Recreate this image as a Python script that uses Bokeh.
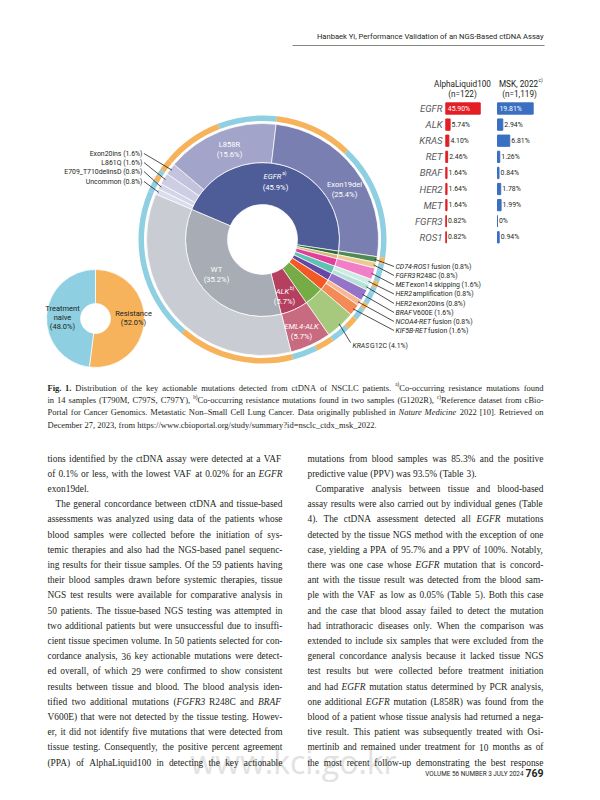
import numpy as np
from bokeh.plotting import figure
from bokeh.models import Range1d, ColumnDataSource
from bokeh.core.properties import value
from bokeh.embed import file_html
from bokeh.resources import INLINE

# ---------------- data ----------------
genes = ["EGFR", "ALK", "KRAS", "RET", "BRAF", "HER2", "MET", "FGFR3", "ROS1"]
alpha_pct = [45.90, 5.74, 4.10, 2.46, 1.64, 1.64, 1.64, 0.82, 0.82]
msk_pct = [19.81, 2.94, 6.81, 1.26, 0.84, 1.78, 1.99, 0.0, 0.94]

inner_names = ["EGFR", "ROS1", "FGFR3", "MET", "HER2", "BRAF", "RET", "KRAS", "ALK", "WT"]
inner_pct = [45.9, 0.8, 0.8, 1.6, 1.6, 1.6, 2.4, 4.1, 5.7, 35.2]

middle_names = ["Uncommon", "E709_T710delinsD", "L861Q", "Exon20ins", "L858R", "Exon19del",
                "CD74-ROS1 fusion", "FGFR3 R248C", "MET exon14 skipping", "HER2 amplification",
                "HER2 exon20ins", "BRAFV600E", "NCOA4-RET fusion", "KIF5B-RET fusion",
                "KRAS G12C", "EML4-ALK", "WT"]
middle_pct = [0.8, 0.8, 1.6, 1.6, 15.6, 25.4, 0.8, 0.8, 1.6, 0.8, 0.8, 1.6, 0.8, 1.6, 4.1, 5.7, 35.2]

outer_pct = [0.8, 0.8, 0.8, 0.8, 1.6, 7.9, 7.7, 10.2, 15.2, 0.8, 0.8, 1.6, 0.8, 0.8, 1.6, 0.8, 1.6,
             1.6, 2.5, 2.4, 3.3, 15.2, 20.0]
outer_status = ["N", "N", "R", "N", "R", "R", "N", "R", "N", "R", "N", "N", "R", "N", "N", "R", "N",
                "R", "N", "R", "N", "R", "N"]

treatment_names = ["Resistance", "Treatment naive"]
treatment_pct = [52.0, 48.0]

# ---------------- styles ----------------
SANS = "Roboto"
SERIF = "Liberation Serif"
INK = "#231f20"

inner_colors = ["#4e5c98", "#2e6b3c", "#d9b57a", "#e23f9b", "#5fc1b1", "#6547a5", "#f15a24",
                "#76ac46", "#b43f5e", "#a8acb4"]
middle_colors = ["#dcdcee", "#d5d5ea", "#cdcde4", "#c3c3de", "#a3a4c9", "#7a7fb1", "#4f8a52",
                 "#edca93", "#f17fc7", "#cfeae3", "#b6e1d8", "#9474c6", "#f9b690", "#f28b55",
                 "#a7c97d", "#c86b80", "#c9ccd2"]
status_colors = {"R": "#f7b35b", "N": "#8ecfe2"}

# approximate advance widths (em) used only to place text runs one after another
RW = {' ': .248, 'A': .652, 'B': .623, 'C': .651, 'D': .656, 'E': .568, 'F': .553, 'G': .681,
      'H': .713, 'I': .272, 'J': .552, 'K': .627, 'L': .538, 'M': .873, 'N': .713, 'O': .687,
      'P': .631, 'Q': .687, 'R': .616, 'S': .595, 'T': .597, 'U': .648, 'V': .636, 'W': .869,
      'X': .628, 'Y': .600, 'Z': .599, 'a': .544, 'b': .561, 'c': .523, 'd': .564, 'e': .530,
      'f': .346, 'g': .561, 'h': .551, 'i': .243, 'j': .239, 'k': .506, 'l': .243, 'm': .875,
      'n': .552, 'o': .570, 'p': .561, 'q': .568, 'r': .338, 's': .516, 't': .326, 'u': .551,
      'v': .484, 'w': .738, 'x': .496, 'y': .473, 'z': .496, '(': .342, ')': .349, '%': .733,
      '.': .263, ',': .196, '-': .276, '_': .452}
TW = {' ': 250, '!': 333, '%': 833, "'": 333, '(': 333, ')': 333, ',': 250, '-': 333, '.': 250,
      '/': 278, ':': 278, ';': 278, '=': 564, '?': 444, '[': 333, ']': 333, '_': 500,
      '\u2013': 500, 'A': 722, 'B': 667, 'C': 667, 'D': 722, 'E': 611, 'F': 556, 'G': 722,
      'H': 722, 'I': 333, 'J': 389, 'K': 722, 'L': 611, 'M': 889, 'N': 722, 'O': 722, 'P': 556,
      'Q': 722, 'R': 667, 'S': 556, 'T': 611, 'U': 722, 'V': 722, 'W': 944, 'X': 722, 'Y': 722,
      'Z': 611, 'a': 444, 'b': 500, 'c': 444, 'd': 500, 'e': 444, 'f': 333, 'g': 500, 'h': 500,
      'i': 278, 'j': 278, 'k': 500, 'l': 278, 'm': 778, 'n': 500, 'o': 500, 'p': 500, 'q': 500,
      'r': 333, 's': 389, 't': 278, 'u': 500, 'v': 500, 'w': 722, 'x': 500, 'y': 500, 'z': 444}


def sans_w(s, size):
    return sum(RW.get(c, .55) for c in s) * size


def serif_w(s, size):
    return sum(TW.get(c, 500) for c in s) / 1000.0 * size


p = figure(width=584, height=784, x_range=Range1d(8, 592), y_range=Range1d(792, 8),
           output_backend="svg", toolbar_location=None, min_border=0,
           x_axis_location=None, y_axis_location=None)
p.grid.visible = False
p.outline_line_color = None


def txt(x, y, s, size=7.5, color=INK, font=SANS, style="normal", align="left",
        baseline="middle", **kw):
    p.text(x=[x], y=[y], text=[s], text_font=value(font), text_font_size="%.2fpx" % size,
           text_color=color, text_font_style=style, text_align=align, text_baseline=baseline,
           **kw)


# ---------------- watermark (behind everything) ----------------
txt(301, 769, "www.kci.go.kr", size=32, font="Open Sans", color="#e2e2e2", align="center")

# ---------------- header ----------------
txt(551, 44, "Hanbaek Yi, Performance Validation of an NGS-Based ctDNA Assay", size=7.6,
    align="right")
p.segment(x0=[300], y0=[53], x1=[552], y1=[53], line_color="#666666", line_width=0.8)


# ---------------- sunburst ----------------
def ring(pcts, start_deg):
    pcts = np.asarray(pcts, dtype=float)
    cum = np.concatenate([[0], np.cumsum(pcts)]) / pcts.sum() * 360.0
    ends = np.radians(start_deg - cum[:-1])
    starts = np.radians(start_deg - cum[1:])
    return starts, ends


CX, CY = 270, 247
START = 157.0

s, e = ring(inner_pct, START)
p.annular_wedge(x=CX, y=CY, inner_radius=35, outer_radius=77, start_angle=s, end_angle=e,
                fill_color=inner_colors, line_color="white", line_width=0.7)
ms, me = ring(middle_pct, START)
p.annular_wedge(x=CX, y=CY, inner_radius=77, outer_radius=116, start_angle=ms, end_angle=me,
                fill_color=middle_colors, line_color="white", line_width=0.7)
s, e = ring(outer_pct, START)
p.annular_wedge(x=CX, y=CY, inner_radius=118.5, outer_radius=124, start_angle=s, end_angle=e,
                fill_color=[status_colors[k] for k in outer_status], line_color=None)

W = "white"
LS = 7.6
txt(237, 152, "L858R", size=LS, color=W, align="center")
txt(237, 162, "(15.6%)", size=LS, color=W, align="center")
txt(352, 192, "Exon19del", size=LS, color=W, align="center")
txt(352, 202, "(25.4%)", size=LS, color=W, align="center")
txt(280, 184, "EGFR", size=LS, color=W, align="center", style="italic")
txt(280 + sans_w("EGFR", LS) / 2 + 0.5, 181, "a)", size=4.8, color=W)
txt(283, 195, "(45.9%)", size=LS, color=W, align="center")
txt(224, 277, "WT", size=LS, color=W, align="center")
txt(224, 287, "(35.2%)", size=LS, color=W, align="center")
txt(290, 299, "ALK", size=LS, color=W, align="center", style="italic")
txt(290 + sans_w("ALK", LS) / 2 + 0.5, 296, "b)", size=4.8, color=W)
txt(292, 309, "(5.7%)", size=LS, color=W, align="center")
txt(309, 334, "EML4-ALK", size=LS, color=W, align="center", style="italic")
txt(309, 344, "(5.7%)", size=LS, color=W, align="center")

# leader lines (targets computed from wedge mid-angles)
mid = (ms + me) / 2.0
RL = 114


def target(i):
    return CX + RL * np.cos(mid[i]), CY - RL * np.sin(mid[i])


FS = 6.9
left_idx = [3, 2, 1, 0]
left_y = [161, 170, 179, 189]
left_txt = ["Exon20ins (1.6%)", "L861Q (1.6%)", "E709_T710delinsD (0.8%)", "Uncommon (0.8%)"]
for i, yy, t in zip(left_idx, left_y, left_txt):
    txt(150, yy, t, size=FS, align="right")
    tx, ty = target(i)
    p.segment(x0=[151.5], y0=[yy], x1=[tx], y1=[ty], line_color=INK, line_width=0.8)

right_idx = [6, 7, 8, 9, 10, 11, 12, 13]
right_y = [274, 283, 292.5, 301.5, 311, 320, 329, 338]
right_it = ["CD74-ROS1", "FGFR3", "MET", "HER2", "HER2", "BRAF", "NCOA4-RET", "KIF5B-RET"]
right_rest = [" fusion (0.8%)", " R248C (0.8%)", " exon14 skipping (1.6%)",
              " amplification (0.8%)", " exon20ins (0.8%)", "V600E (1.6%)", " fusion (0.8%)",
              " fusion (1.6%)"]
for i, yy, a, b in zip(right_idx, right_y, right_it, right_rest):
    txt(403, yy, a, size=FS, style="italic")
    txt(403 + sans_w(a, FS) + 0.3, yy, b, size=FS)
    tx, ty = target(i)
    p.segment(x0=[401.5], y0=[yy], x1=[tx], y1=[ty], line_color=INK, line_width=0.8)

txt(360, 353, "KRAS", size=FS, style="italic")
txt(360 + sans_w("KRAS", FS) + 0.3, 353, " G12C (4.1%)", size=FS)
tx, ty = target(14)
p.segment(x0=[358], y0=[350], x1=[tx], y1=[ty], line_color=INK, line_width=0.8)

# ---------------- treatment donut ----------------
ts, te = ring(treatment_pct, 90.0)
p.annular_wedge(x=103, y=326, inner_radius=15, outer_radius=49, start_angle=ts, end_angle=te,
                fill_color=[status_colors["R"], status_colors["N"]], line_color="white",
                line_width=0.7)
txt(70, 316, "Treatment", align="center")
txt(70, 325, "naive", align="center")
txt(70, 334, "(48.0%)", align="center")
txt(141, 321, "Resistance", align="center")
txt(141, 330, "(52.0%)", align="center")

# ---------------- bar table ----------------
ROW0, ROWSTEP = 116.0, 16.1
A0, AS = 453.3, 0.75
M0, MS_ = 505.0, 1.8
p.extra_y_ranges = {"rows": Range1d(start=(792 - ROW0) / ROWSTEP, end=(8 - ROW0) / ROWSTEP)}
p.extra_x_ranges = {"alpha": Range1d(start=(8 - A0) / AS, end=(592 - A0) / AS),
                    "msk": Range1d(start=(8 - M0) / MS_, end=(592 - M0) / MS_)}
idx = list(range(len(genes)))

HS = 8.2
txt(470, 91, "AlphaLiquid100", size=HS, align="center")
txt(470, 101, "(n=122)", size=HS, align="center")
txt(526, 91, "MSK, 2022", size=HS, align="center")
txt(526 + sans_w("MSK, 2022", HS) / 2 + 0.5, 88, "c)", size=4.8)
txt(527, 101, "(n=1,119)", size=HS, align="center")

p.text(x=[450] * len(genes), y=idx, text=genes, y_range_name="rows", text_font=value(SANS),
       text_font_size="9.6px", text_font_style="italic", text_color="#58595b",
       text_align="right", text_baseline="middle")

p.hbar(y=idx, left=0, right=alpha_pct, height=0.7, color="#e31e24",
       x_range_name="alpha", y_range_name="rows")
p.hbar(y=idx, left=0, right=msk_pct, height=0.7, color="#3a6fc2",
       x_range_name="msk", y_range_name="rows")

alabels = ["%.2f%%" % v for v in alpha_pct]
mlabels = ["%.2f%%" % v if v > 0 else "0%" for v in msk_pct]
VS = "6.9px"
p.text(x=[0], y=[0], text=[alabels[0]], x_offset=2, x_range_name="alpha", y_range_name="rows",
       text_font=value(SANS), text_font_size=VS, text_color="white", text_baseline="middle")
p.text(x=alpha_pct[1:], y=idx[1:], text=alabels[1:], x_offset=1.5, x_range_name="alpha",
       y_range_name="rows", text_font=value(SANS), text_font_size=VS, text_color=INK,
       text_baseline="middle")
p.text(x=[0], y=[0], text=[mlabels[0]], x_offset=2, x_range_name="msk", y_range_name="rows",
       text_font=value(SANS), text_font_size=VS, text_color="white", text_baseline="middle")
p.text(x=msk_pct[1:], y=idx[1:], text=mlabels[1:], x_offset=1.5, x_range_name="msk",
       y_range_name="rows", text_font=value(SANS), text_font_size=VS, text_color=INK,
       text_baseline="middle")


# ---------------- justified serif text (caption and body) ----------------
def parse_word(w):
    """'{a)}word' -> superscript + normal; 'pre*word' -> normal 'pre' + italic; '!word' -> bold"""
    if w.startswith("{"):
        k = w.index("}")
        runs = [(w[1:k], "sup")]
        if w[k + 1:]:
            runs.append((w[k + 1:], "normal"))
        return runs
    if "*" in w:
        k = w.index("*")
        runs = []
        if w[:k]:
            runs.append((w[:k], "normal"))
        runs.append((w[k + 1:], "italic"))
        return runs
    if w.startswith("!"):
        return [(w[1:], "bold")]
    return [(w, "normal")]


def set_block(lines, x0, x1, y0, lh, size, ragged=(), indent=(), ind=8.0):
    xs, ys, ts, ss, st = [], [], [], [], []
    for k, line in enumerate(lines):
        words = [parse_word(w) for w in line.split(" ")]
        wid = []
        for runs in words:
            wsum = 0.0
            for t, sty in runs:
                wsum += serif_w(t, size * (0.62 if sty == "sup" else 1.0))
            wid.append(wsum)
        start = x0 + (ind if k in indent else 0.0)
        gaps = len(words) - 1
        nat_space = serif_w(" ", size)
        if k in ragged or gaps == 0:
            sp = nat_space
        else:
            sp = max((x1 - start - sum(wid)) / gaps, 0.45 * nat_space)
        x = start
        y = y0 + lh * k
        for runs, w in zip(words, wid):
            xx = x
            for t, sty in runs:
                if sty == "sup":
                    xs.append(xx); ys.append(y - 0.38 * size); ts.append(t)
                    ss.append("%.2fpx" % (size * 0.62)); st.append("normal")
                    xx += serif_w(t, size * 0.62)
                else:
                    xs.append(xx); ys.append(y); ts.append(t)
                    ss.append("%.2fpx" % size); st.append(sty)
                    xx += serif_w(t, size)
            x += w + sp
    src = ColumnDataSource(dict(x=xs, y=ys, text=ts, size=ss, style=st))
    p.text(x="x", y="y", text="text", source=src, text_font=value(SERIF),
           text_font_size="size", text_font_style="style", text_color=INK,
           text_baseline="middle")


caption = [
    "!Fig. !1. Distribution of the key actionable mutations detected from ctDNA of NSCLC patients. {a)}Co-occurring resistance mutations found",
    "in 14 samples (T790M, C797S, C797Y), {b)}Co-occurring resistance mutations found in two samples (G1202R), {c)}Reference dataset from cBio-",
    "Portal for Cancer Genomics. Metastatic Non\u2013Small Cell Lung Cancer. Data originally published in *Nature *Medicine 2022 [10]. Retrieved on",
    "December 27, 2023, from https://www.cbioportal.org/study/summary?id=nsclc_ctdx_msk_2022.",
]
set_block(caption, 55, 551, 395, 12.4, 8.5, ragged=(3,))

left_col = [
    "tions identified by the ctDNA assay were detected at a VAF",
    "of 0.1% or less, with the lowest VAF at 0.02% for an *EGFR",
    "exon19del.",
    "The general concordance between ctDNA and tissue-based",
    "assessments was analyzed using data of the patients whose",
    "blood samples were collected before the initiation of sys-",
    "temic therapies and also had the NGS-based panel sequenc-",
    "ing results for their tissue samples. Of the 59 patients having",
    "their blood samples drawn before systemic therapies, tissue",
    "NGS test results were available for comparative analysis in",
    "50 patients. The tissue-based NGS testing was attempted in",
    "two additional patients but were unsuccessful due to insuffi-",
    "cient tissue specimen volume. In 50 patients selected for con-",
    "cordance analysis, 36 key actionable mutations were detect-",
    "ed overall, of which 29 were confirmed to show consistent",
    "results between tissue and blood. The blood analysis iden-",
    "tified two additional mutations (*FGFR3 R248C and *BRAF",
    "V600E) that were not detected by the tissue testing. Howev-",
    "er, it did not identify five mutations that were detected from",
    "tissue testing. Consequently, the positive percent agreement",
    "(PPA) of AlphaLiquid100 in detecting the key actionable",
]
right_col = [
    "mutations from blood samples was 85.3% and the positive",
    "predictive value (PPV) was 93.5% (Table 3).",
    "Comparative analysis between tissue and blood-based",
    "assay results were also carried out by individual genes (Table",
    "4). The ctDNA assessment detected all *EGFR mutations",
    "detected by the tissue NGS method with the exception of one",
    "case, yielding a PPA of 95.7% and a PPV of 100%. Notably,",
    "there was one case whose *EGFR mutation that is concord-",
    "ant with the tissue result was detected from the blood sam-",
    "ple with the VAF as low as 0.05% (Table 5). Both this case",
    "and the case that blood assay failed to detect the mutation",
    "had intrathoracic diseases only. When the comparison was",
    "extended to include six samples that were excluded from the",
    "general concordance analysis because it lacked tissue NGS",
    "test results but were collected before treatment initiation",
    "and had *EGFR mutation status determined by PCR analysis,",
    "one additional *EGFR mutation (L858R) was found from the",
    "blood of a patient whose tissue analysis had returned a nega-",
    "tive result. This patient was subsequently treated with Osi-",
    "mertinib and remained under treatment for 10 months as of",
    "the most recent follow-up demonstrating the best response",
]
BS = 9.4
set_block(left_col, 55, 290, 466, 15.2, BS, ragged=(2,), indent=(3,))
set_block(right_col, 315, 551, 466, 15.2, BS, ragged=(1,), indent=(2,))

# ---------------- footer ----------------
txt(531, 781, "VOLUME 56 NUMBER 3 JULY 2024", size=6.4, align="right")
txt(551, 780, "769", size=10.5, style="bold", align="right")

open("out.html", "w").write(file_html(p, INLINE))
